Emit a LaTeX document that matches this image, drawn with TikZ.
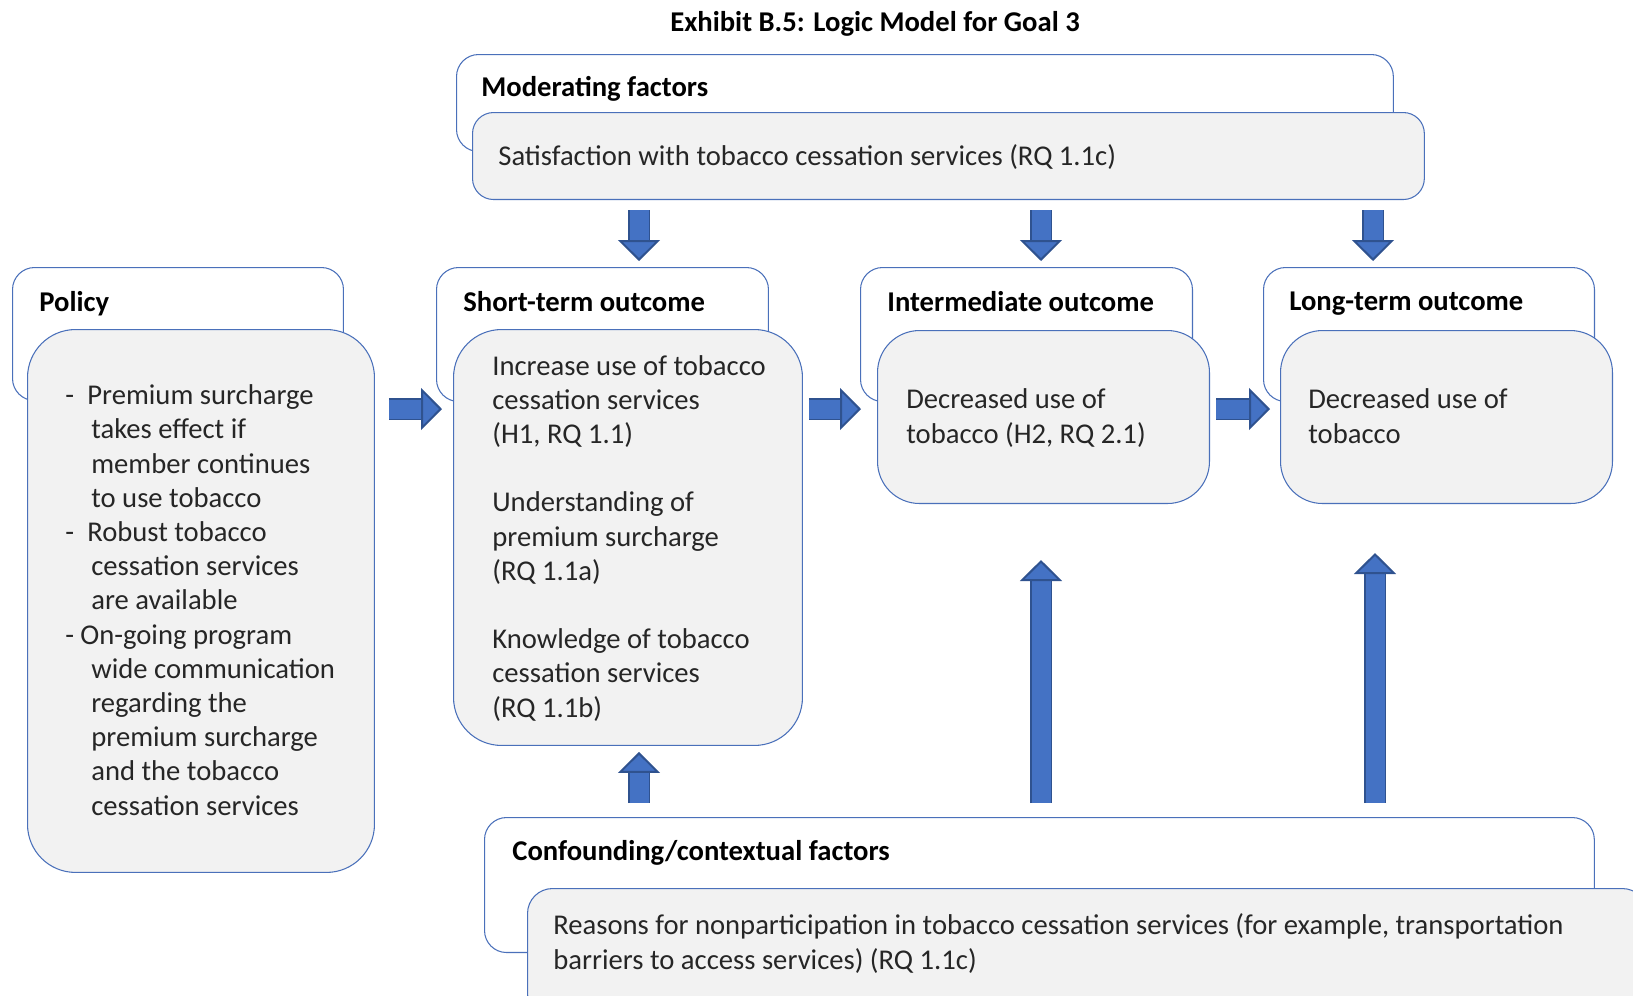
\documentclass[tikz,border=0pt]{standalone}
\usepackage{fontspec}
\setmainfont{Carlito}
\usetikzlibrary{arrows.meta,calc}
\definecolor{boxblue}{HTML}{4A70BA}
\definecolor{boxgray}{HTML}{F2F2F2}
\definecolor{arrowblue}{HTML}{4472C4}
\definecolor{arrowdark}{HTML}{2F528F}
\definecolor{bodytext}{HTML}{262626}

\begin{document}
\begin{tikzpicture}[x=0.02cm,y=-0.02cm,
  outerbox/.style={draw=boxblue, fill=white, line width=0.6pt, rounded corners=0.44cm, anchor=north west, inner sep=0pt},
  innerbox/.style={draw=boxblue, fill=boxgray, line width=0.6pt, anchor=north west, inner sep=0pt},
  hdr/.style={anchor=base west, inner sep=0pt, font=\fontsize{16.3}{19.46}\selectfont\bfseries},
  body/.style={anchor=base west, inner sep=0pt, align=left, text=bodytext, font=\fontsize{16.3}{19.46}\selectfont},
  barrow/.style={draw=arrowblue, line width=0.38cm,
    -{Triangle[width=0.84cm,length=0.42cm,line width=0.04cm,color=arrowdark,fill=arrowblue]},
    preaction={draw=arrowdark, line width=0.44cm, arrows=-, shorten >=0.42cm}}]
\useasboundingbox (0,0) rectangle (1633,995);
\clip (0,0) rectangle (1633,995);

\node[anchor=base, inner sep=0pt, font=\fontsize{16.3}{19.46}\selectfont\bfseries] (title) at (875,31) {Exhibit B.5: Logic Model for Goal 3};

% moderating factors
\node[outerbox, minimum width=18.74cm, minimum height=1.94cm] (modout) at (456,54) {};
\node[innerbox, rounded corners=0.42cm, minimum width=19.04cm, minimum height=1.74cm] (modin) at (472,112) {};
\node[hdr] (modhdr) at (481,96) {Moderating factors};
\node[body] (modtext) at (498,165) {Satisfaction with tobacco cessation services (RQ 1.1c)};

% policy
\node[outerbox, minimum width=6.62cm, minimum height=2.66cm] (polout) at (12,267) {};
\node[innerbox, rounded corners=0.96cm, minimum width=6.94cm, minimum height=10.86cm] (polin) at (27,329) {};
\node[hdr] (polhdr) at (39,311) {Policy};
\node[body] (poltext) at (65,815) {\makebox[0.44cm][l]{-}Premium surcharge\\
\hspace*{0.52cm}takes effect if\\
\hspace*{0.52cm}member continues\\
\hspace*{0.52cm}to use tobacco\\
\makebox[0.44cm][l]{-}Robust tobacco\\
\hspace*{0.52cm}cessation services\\
\hspace*{0.52cm}are available\\
\makebox[0.30cm][l]{-}On-going program\\
\hspace*{0.52cm}wide communication\\
\hspace*{0.52cm}regarding the\\
\hspace*{0.52cm}premium surcharge\\
\hspace*{0.52cm}and the tobacco\\
\hspace*{0.52cm}cessation services};

% short-term outcome
\node[outerbox, minimum width=6.64cm, minimum height=2.68cm] (sout) at (436,267) {};
\node[innerbox, rounded corners=0.96cm, minimum width=6.98cm, minimum height=8.32cm] (sin) at (453,329) {};
\node[hdr] (shdr) at (463,311) {Short-term outcome};
\node[body] (stext) at (492,717) {Increase use of tobacco\\cessation services\\(H1, RQ 1.1)\\[19.46pt]
Understanding of\\premium surcharge\\(RQ 1.1a)\\[19.46pt]
Knowledge of tobacco\\cessation services\\(RQ 1.1b)};

% intermediate outcome
\node[outerbox, minimum width=6.64cm, minimum height=2.68cm] (iout) at (860,267) {};
\node[innerbox, rounded corners=0.84cm, minimum width=6.64cm, minimum height=3.46cm] (iin) at (877,330) {};
\node[hdr] (ihdr) at (887,311) {Intermediate outcome};
\node[body] (itext) at (906,443) {Decreased use of\\tobacco (H2, RQ 2.1)};

% long-term outcome
\node[outerbox, minimum width=6.62cm, minimum height=2.68cm] (lout) at (1263,267) {};
\node[innerbox, rounded corners=0.84cm, minimum width=6.64cm, minimum height=3.46cm] (lin) at (1280,330) {};
\node[hdr] (lhdr) at (1289,310) {Long-term outcome};
\node[body] (ltext) at (1308,443) {Decreased use of\\tobacco};

% confounding factors
\node[outerbox, minimum width=22.2cm, minimum height=2.7cm] (cout) at (484,817) {};
\node[innerbox, rounded corners=0.5cm, minimum width=22.4cm, minimum height=2.6cm] (cin) at (527,888) {};
\node[hdr] (chdr) at (512,860) {Confounding/contextual factors};
\node[body] (ctext) at (553,969) {Reasons for nonparticipation in tobacco cessation services (for example, transportation\\barriers to access services) (RQ 1.1c)};

\coordinate (c1) at (639,0);
\coordinate (c2) at (1041,0);
\coordinate (c3) at (1373,0);
\coordinate (c4) at (1375,0);
\coordinate (rowy) at (0,409);

\path[barrow] ($(modin.south -| c1)+(0,10)$) -- ($(sout.north -| c1)+(0,-6)$);
\path[barrow] ($(modin.south -| c2)+(0,10)$) -- ($(iout.north -| c2)+(0,-6)$);
\path[barrow] ($(modin.south -| c3)+(0,10)$) -- ($(lout.north -| c3)+(0,-6)$);

\path[barrow] ($(polin.east |- rowy)+(14,0)$) -- ($(sin.west |- rowy)+(-11,0)$);
\path[barrow] ($(sin.east |- rowy)+(6,0)$) -- ($(iin.west |- rowy)+(-16,0)$);
\path[barrow] ($(iin.east |- rowy)+(6,0)$) -- ($(lin.west |- rowy)+(-10,0)$);

\path[barrow] ($(cout.north -| c1)+(0,-14)$) -- ($(sin.south -| c1)+(0,6)$);
\path[barrow] ($(cout.north -| c2)+(0,-14)$) -- ($(iin.south -| c2)+(0,56)$);
\path[barrow] ($(cout.north -| c4)+(0,-14)$) -- ($(lin.south -| c4)+(0,49)$);
\end{tikzpicture}
\end{document}
